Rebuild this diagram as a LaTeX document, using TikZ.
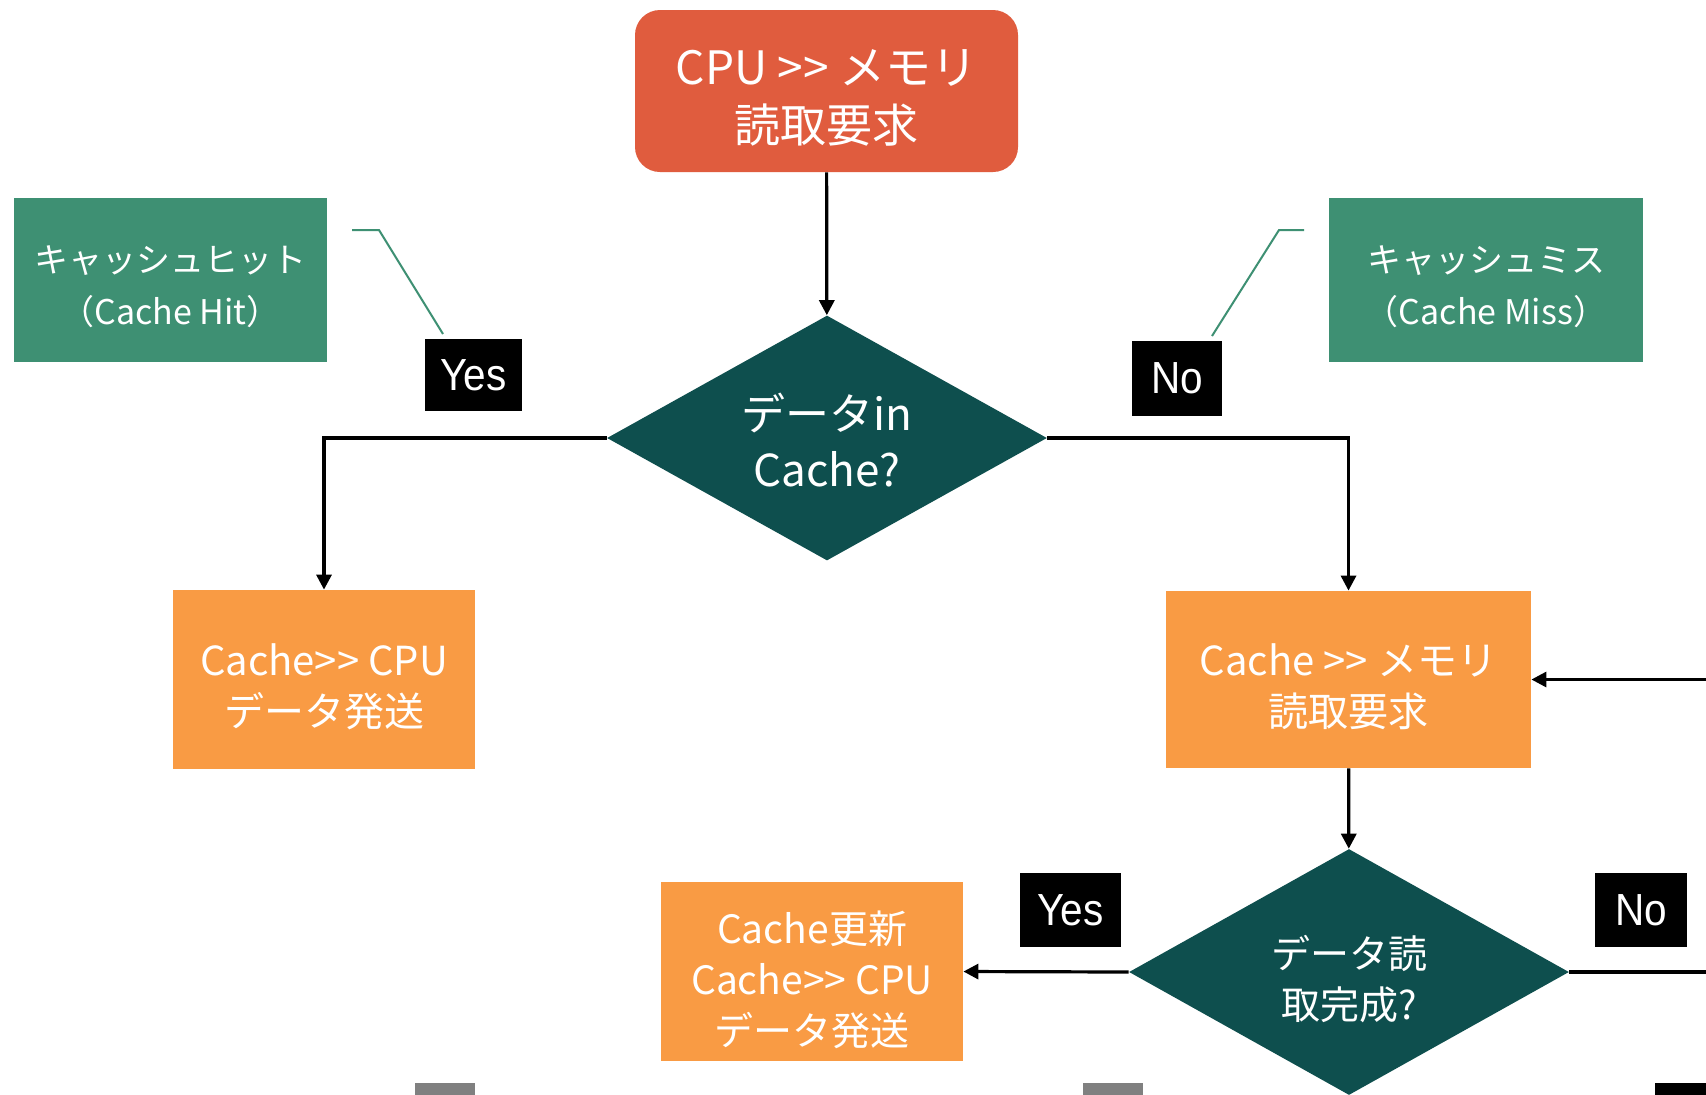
\documentclass[tikz,border=0pt]{standalone}
\usepackage{fontspec}
\setmainfont{Noto Sans CJK JP}
% plain family without TeX ligatures, so that ">>" stays two characters
\newfontfamily\jpfont{Noto Sans CJK JP}
\newfontfamily\labelfont[FakeStretch=0.9]{Liberation Sans}
\usetikzlibrary{shapes.geometric,arrows.meta}

\definecolor{redc}{HTML}{E05C3E}
\definecolor{greenc}{HTML}{3E9073}
\definecolor{tealc}{HTML}{0E4F4E}
\definecolor{orangec}{HTML}{F99B44}
\definecolor{grayc}{HTML}{808080}

% centred lines of text, drawn a little below the middle of their box
% (the box keeps its natural size, so the node outline is unaffected)
\newcommand\lowstack[2][5.8pt]{\raisebox{-#1}[\height][\depth]{\begin{tabular}{@{}c@{}}#2\end{tabular}}}

\tikzset{
  every node/.style={text=white, align=center, inner sep=0pt},
  startbox/.style={rectangle, rounded corners=12.5pt, fill=redc,
    minimum width=191.5pt, minimum height=81pt,
    font=\jpfont\fontsize{23}{29}\selectfont},
  procbox/.style={rectangle, fill=orangec, font=\jpfont\fontsize{20}{25.5}\selectfont},
  notebox/.style={rectangle, fill=greenc, minimum width=156.5pt,
    minimum height=82pt, font=\jpfont\fontsize{17}{26}\selectfont},
  decision/.style={diamond, aspect=1.8, fill=tealc, minimum width=220pt,
    minimum height=122.5pt},
  answer/.style={rectangle, fill=black, font=\labelfont\fontsize{22.5}{24}\selectfont},
  flow/.style={draw=black, line width=1.6pt, -{Triangle[length=7.5pt,width=7.5pt]}},
  plainline/.style={draw=black, line width=1.6pt},
  leader/.style={draw=greenc, line width=1pt},
}

\begin{document}
\begin{tikzpicture}[x=0.5pt,y=-0.5pt]
  \clip (0,0) rectangle (1706,1094);
  \fill[white] (0,0) rectangle (1706,1094);

  % main flow
  \node[startbox] (start) at (826.5,91) {\lowstack[5.5pt]{CPU >> メモリ\\読取要求}};
  \node[decision, font=\jpfont\fontsize{22}{28}\selectfont] (dec1) at (827,438)
    {\lowstack[4.4pt]{データin\\Cache?}};
  \node[procbox, minimum width=151pt, minimum height=89.5pt] (hit) at (324,679.5)
    {\lowstack{Cache>> CPU\\データ発送}};
  \node[procbox, minimum width=182.5pt, minimum height=88.5pt] (missreq) at (1348.5,679.5)
    {\lowstack{Cache >> メモリ\\読取要求}};
  \node[decision, minimum height=123pt, font=\jpfont\fontsize{19.5}{25.5}\selectfont] (dec2) at (1349,972)
    {\lowstack[6pt]{データ読\\取完成?}};
  \node[procbox, minimum width=151pt, minimum height=89.5pt,
    font=\jpfont\fontsize{19.5}{25.5}\selectfont] (send2) at (812,971.5)
    {\lowstack[6.5pt]{Cache更新\\Cache>> CPU\\データ発送}};

  % notes
  \node[notebox] (notehit) at (170.5,280) {\lowstack[4pt]{キャッシュヒット\\（Cache Hit）}};
  \node[notebox, minimum width=157pt] (notemiss) at (1486,280) {\lowstack[4pt]{キャッシュミス\\（Cache Miss）}};

  % branch answers
  \node[answer, minimum width=48.5pt, minimum height=36pt] (yes1) at (473.5,375) {Yes};
  \node[answer, minimum width=45pt, minimum height=37.5pt] (no1) at (1177,378.5) {No};
  \node[answer, minimum width=50.5pt, minimum height=37pt] (yes2) at (1070.5,910) {Yes};
  \node[answer, minimum width=46pt, minimum height=37pt] (no2) at (1641,910) {No};

  % leaders from notes to answers
  \coordinate (lh1) at (352,230);
  \coordinate (lh2) at (379,230);
  \coordinate (lh3) at (443,334);
  \draw[leader] (lh1) -- (lh2) -- (lh3);
  \coordinate (lm1) at (1212,336);
  \coordinate (lm2) at (1279,230);
  \coordinate (lm3) at (1304,230);
  \draw[leader] (lm1) -- (lm2) -- (lm3);

  % connectors
  \draw[flow] (start) -- (dec1);
  \draw[flow] (dec1.west) -| (hit.north);
  \draw[flow] (dec1.east) -| (missreq.north);
  \draw[flow] (missreq) -- (dec2);
  \draw[flow] (dec2.west) -- (send2.east);
  \coordinate (outR) at (1712,972);
  \draw[plainline] (dec2.east) -- (outR);
  \coordinate (inR) at (1712,679.5);
  \draw[flow] (inR) -- (missreq.east);

  % shapes continuing below the lower edge
  \fill[grayc] (415,1083) rectangle (475,1100);
  \fill[grayc] (1083,1083) rectangle (1143,1100);
  \fill[black] (1655,1083) rectangle (1712,1100);
\end{tikzpicture}
\end{document}
